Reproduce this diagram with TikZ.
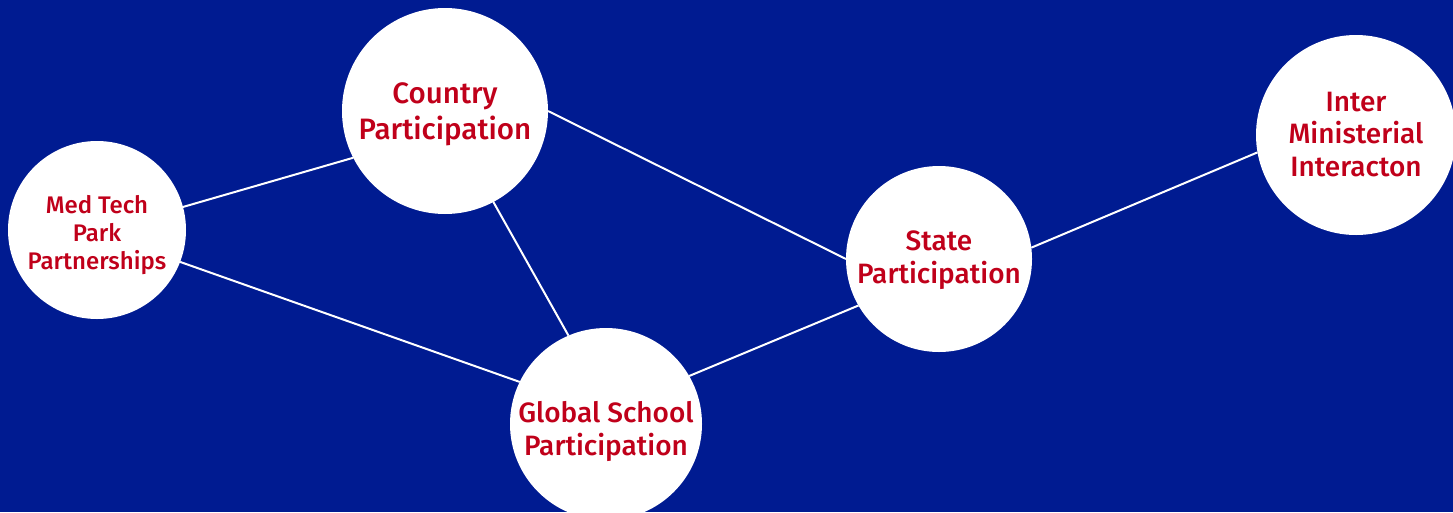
\documentclass[tikz,border=0pt]{standalone}
\usepackage{fontspec}
\setmainfont{Fira Sans Medium}
\usepackage{tikz}
\usetikzlibrary{positioning}
\definecolor{bgblue}{RGB}{0,27,145}
\definecolor{txtred}{RGB}{192,0,26}
% lower the lines of a label without changing the size of the circle
\newcommand{\sinktext}[2]{\raisebox{-#1}[\height][\depth]{\begin{tabular}{@{}c@{}}#2\end{tabular}}}
\tikzset{
  topic/.style={circle,fill=white,text=txtred,inner sep=0pt,outer sep=0pt},
  link/.style={draw=white,line width=2pt}
}
\begin{document}
\begin{tikzpicture}[x=1pt,y=-1pt]
        \fill[bgblue] (0,0) rectangle (1453,512);
        \useasboundingbox (0,0) rectangle (1453,512);
        \node[topic,minimum size=178pt,font=\fontsize{24}{28}\selectfont] (medtech) at (97,230) {\sinktext{6pt}{Med Tech\\Park\\Partnerships}};
        \node[topic,minimum size=206pt,font=\fontsize{29.5}{36}\selectfont] (country) at (445,111) {\sinktext{3pt}{Country\\Participation}};
        \node[topic,minimum size=192pt,font=\fontsize{28}{33}\selectfont] (global) at (606,424) {\sinktext{8pt}{Global School\\Participation}};
        \node[topic,minimum size=186pt,font=\fontsize{28}{33}\selectfont] (state) at (939,259) {\sinktext{1pt}{State\\Participation}};
        \node[topic,minimum size=200pt,font=\fontsize{28}{32.5}\selectfont] (inter) at (1356,135) {\sinktext{2pt}{Inter\\Ministerial\\Interacton}};
        \draw[link] (medtech.15) -- (country.207);
        \draw[link] (medtech.-21) -- (global.154);
        \draw[link] (country.-62) -- (global.113);
        \draw[link] (country.east) -- (state.west);
        \draw[link] (global.30) -- (state.210);
        \draw[link] (state.7) -- (inter.190);
    \end{tikzpicture}
\end{document}
